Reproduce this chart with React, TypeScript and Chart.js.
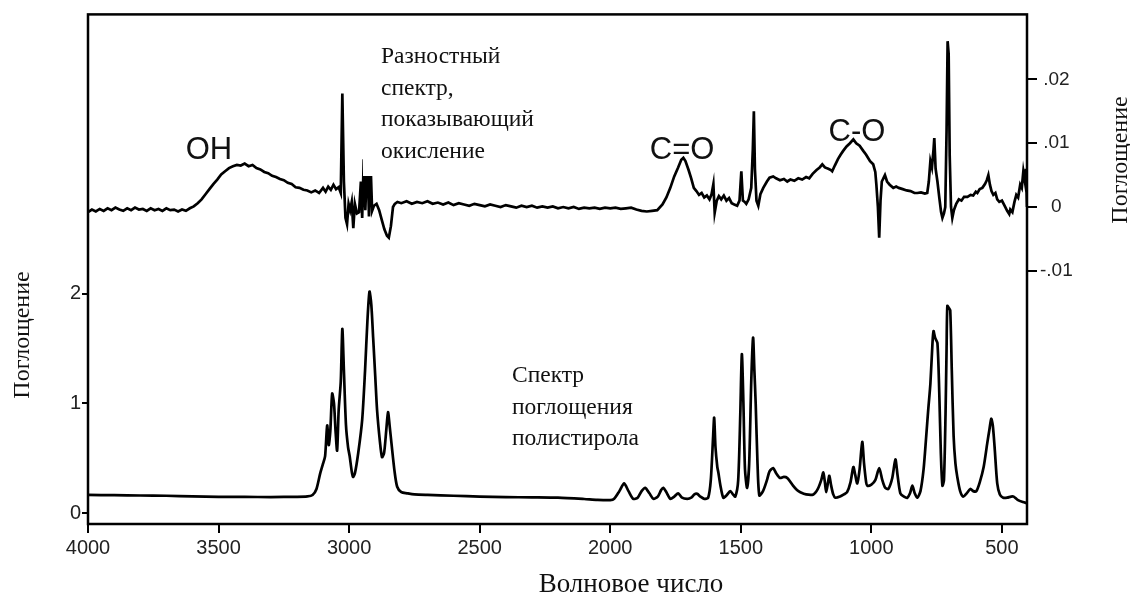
import React, { useEffect, useRef } from "react";
import { Chart, registerables } from "chart.js";

Chart.register(...registerables);

// Polystyrene absorption spectrum (wavenumber, absorbance) — left axis
const psWavenumber = [
  4000, 3900, 3800, 3700, 3600, 3500, 3400, 3300, 3200, 3160, 3140, 3125, 3111, 3100, 3092, 3084, 3078, 3072,
  3065, 3058, 3052, 3046, 3040, 3032, 3026, 3020, 3012, 3004, 2998, 2990, 2985, 2978, 2965, 2950, 2939, 2930,
  2922, 2915, 2908, 2900, 2893, 2882, 2874, 2866, 2858, 2851, 2845, 2838, 2826, 2816, 2800, 2778, 2750, 2700,
  2600, 2500, 2400, 2300, 2200, 2100, 2050, 2000, 1985, 1965, 1947, 1930, 1912, 1895, 1880, 1866, 1850, 1835,
  1818, 1805, 1797, 1785, 1770, 1755, 1740, 1725, 1705, 1690, 1678, 1667, 1655, 1640, 1625, 1615, 1606, 1602,
  1597, 1590, 1586, 1578, 1567, 1555, 1540, 1530, 1521, 1510, 1502, 1496, 1490, 1484, 1476, 1468, 1460, 1453,
  1448, 1443, 1436, 1429, 1415, 1400, 1390, 1376, 1364, 1350, 1335, 1322, 1300, 1285, 1272, 1250, 1222, 1205,
  1192, 1184, 1178, 1173, 1166, 1161, 1154, 1146, 1138, 1120, 1105, 1093, 1080, 1069, 1062, 1054, 1045, 1035,
  1028, 1020, 1016, 1000, 985, 970, 958, 947, 935, 920, 908, 900, 889, 875, 862, 852, 843, 834, 824, 812, 800,
  790, 782, 774, 766, 762, 756, 747, 740, 734, 728, 722, 716, 712, 709, 703, 698, 692, 685, 678, 671, 660, 648,
  635, 621, 610, 598, 585, 570, 556, 548, 541, 535, 528, 518, 508, 495, 480, 465, 455, 440, 420, 404,
];
const psAbsorbance = [
  0.165, 0.163, 0.16, 0.158, 0.152, 0.148, 0.147, 0.146, 0.148, 0.152, 0.165, 0.22, 0.36, 0.45, 0.52, 0.8, 0.62, 0.75,
  1.09, 1.0, 0.75, 0.57, 0.94, 1.2, 1.68, 1.3, 0.8, 0.6, 0.52, 0.38, 0.33, 0.36, 0.55, 0.85, 1.3, 1.75,
  2.02, 1.9, 1.6, 1.25, 0.94, 0.65, 0.51, 0.55, 0.75, 0.92, 0.8, 0.64, 0.38, 0.24, 0.19, 0.18, 0.17, 0.165,
  0.158, 0.15, 0.145, 0.143, 0.14, 0.128, 0.12, 0.118, 0.13, 0.2, 0.27, 0.2, 0.13, 0.14, 0.2, 0.23, 0.18, 0.13,
  0.15, 0.21, 0.23, 0.19, 0.13, 0.15, 0.18, 0.14, 0.13, 0.14, 0.17, 0.175, 0.15, 0.13, 0.14, 0.3, 0.7, 0.87,
  0.6, 0.42, 0.37, 0.25, 0.14, 0.16, 0.2, 0.17, 0.15, 0.3, 0.9, 1.45, 1.0, 0.4, 0.23, 0.45, 1.2, 1.6,
  1.3, 1.0, 0.45, 0.16, 0.2, 0.3, 0.38, 0.41, 0.36, 0.32, 0.33, 0.32, 0.25, 0.21, 0.19, 0.17, 0.17, 0.22,
  0.3, 0.37, 0.28, 0.19, 0.28, 0.34, 0.25, 0.17, 0.14, 0.15, 0.17, 0.19, 0.28, 0.42, 0.35, 0.27, 0.4, 0.65,
  0.45, 0.28, 0.25, 0.26, 0.3, 0.41, 0.3, 0.23, 0.22, 0.32, 0.49, 0.35, 0.18, 0.15, 0.14, 0.18, 0.25, 0.18, 0.14, 0.2, 0.4,
  0.7, 0.95, 1.18, 1.55, 1.66, 1.6, 1.55, 1.1, 0.55, 0.25, 0.3, 0.9, 1.5, 1.89, 1.87, 1.85, 1.3, 0.7, 0.45, 0.33, 0.2, 0.15,
  0.18, 0.22, 0.2, 0.2, 0.28, 0.42, 0.64, 0.76, 0.86, 0.8, 0.6, 0.27, 0.17, 0.14, 0.14, 0.15, 0.15, 0.12, 0.1, 0.09,
];

// Difference spectrum showing oxidation (wavenumber, absorbance) — right axis
const diffWavenumber = [
  4000, 3985, 3970, 3955, 3940, 3925, 3910, 3895, 3880, 3865, 3850, 3835, 3820, 3805, 3790, 3775, 3760, 3745,
  3730, 3715, 3700, 3685, 3670, 3655, 3640, 3625, 3610, 3595, 3580, 3565, 3550, 3535, 3520, 3505, 3490, 3475,
  3460, 3445, 3430, 3415, 3400, 3385, 3370, 3355, 3340, 3325, 3310, 3295, 3280, 3265, 3250, 3235, 3220, 3205,
  3190, 3175, 3160, 3145, 3130, 3115, 3100, 3090, 3080, 3070, 3060, 3050, 3040, 3032, 3026, 3020, 3014, 3008,
  3002, 2996, 2990, 2984, 2978, 2970, 2962, 2955, 2950, 2944, 2938, 2930, 2924, 2918, 2912, 2905, 2895, 2885,
  2875, 2865, 2855, 2848, 2840, 2832, 2825, 2815, 2800, 2780, 2760, 2740, 2720, 2700, 2680, 2660, 2640, 2620,
  2600, 2580, 2560, 2540, 2520, 2500, 2480, 2460, 2440, 2420, 2400, 2380, 2360, 2340, 2320, 2300, 2280, 2260,
  2240, 2220, 2200, 2180, 2160, 2140, 2120, 2100, 2080, 2060, 2040, 2020, 2000, 1980, 1960, 1940, 1920, 1900,
  1880, 1860, 1840, 1820, 1800, 1785, 1770, 1755, 1740, 1728, 1720, 1712, 1700, 1690, 1680, 1670, 1660, 1650,
  1640, 1630, 1620, 1612, 1605, 1600, 1592, 1584, 1575, 1565, 1555, 1545, 1535, 1525, 1514, 1505, 1498, 1492,
  1485, 1479, 1470, 1460, 1454, 1450, 1446, 1440, 1433, 1425, 1414, 1400, 1390, 1376, 1365, 1350, 1335, 1322,
  1310, 1295, 1280, 1265, 1250, 1238, 1225, 1210, 1198, 1188, 1178, 1165, 1155, 1150, 1140, 1128, 1118, 1108,
  1095, 1082, 1069, 1058, 1045, 1031, 1020, 1005, 993, 985, 981, 975, 970, 965, 960, 955, 948, 940, 930, 916,
  905, 895, 880, 865, 850, 835, 824, 810, 795, 786, 780, 774, 768, 762, 759, 754, 747, 740, 733, 728, 722, 717,
  712, 708, 704, 700, 695, 690, 684, 675, 665, 655, 645, 632, 620, 610, 600, 594, 585, 575, 565, 558, 552, 546,
  540, 533, 525, 518, 510, 500, 490, 480, 472, 468, 460, 452, 445, 438, 430, 424, 418, 412, 408, 404,
];
const diffAbsorbance = [
  -0.0008, -0.0004, -0.0007, -0.0003, -0.0006, -0.0002, -0.0005, -0.0001, -0.0004, -0.0006, -0.0002, -0.0005, -0.0001, -0.0004, -0.0003, -0.0006, -0.0002, -0.0005,
  -0.0003, -0.0006, -0.0002, -0.0005, -0.0004, -0.0007, -0.0004, -0.0006, -0.0002, 0.0001, 0.0006, 0.0012, 0.002, 0.0028, 0.0036, 0.0043, 0.0051, 0.0056,
  0.0061, 0.0064, 0.0066, 0.0065, 0.0068, 0.0064, 0.0066, 0.0061, 0.0059, 0.0055, 0.0053, 0.0049, 0.0047, 0.0044, 0.0042, 0.0038, 0.0036, 0.0031,
  0.003, 0.0027, 0.0026, 0.0023, 0.0026, 0.0022, 0.003, 0.0024, 0.0032, 0.0027, 0.0035, 0.0028, 0.0031, 0.0022, 0.0178, 0.004, -0.0017, -0.0027,
  0.0005, -0.0005, 0.0008, -0.0033, 0.0005, -0.001, -0.0008, 0.004, -0.0017, 0.0075, -0.0005, 0.008, -0.0015, 0.007, -0.0006, 0.0002, 0.0005, -0.0005,
  -0.002, -0.0035, -0.0045, -0.0048, -0.003, 0.0, 0.0005, 0.0008, 0.0006, 0.0009, 0.0005, 0.0008, 0.0006, 0.0009, 0.0005, 0.0007, 0.0004, 0.0007,
  0.0003, 0.0006, 0.0004, 0.0002, 0.0005, 0.0003, 0.0001, 0.0004, 0.0002, 0.0, 0.0003, 0.0001, -0.0001, 0.0002, 0.0, 0.0002, -0.0001, 0.0001,
  -0.0001, 0.0001, -0.0002, 0.0, -0.0002, 0.0, -0.0003, -0.0001, -0.0002, -0.0001, -0.0003, -0.0001, -0.0002, -0.0001, -0.0003, -0.0002, -0.0001, -0.0004,
  -0.0006, -0.0007, -0.0006, -0.0005, 0.0004, 0.0015, 0.003, 0.0048, 0.0062, 0.0074, 0.0077, 0.0072, 0.0058, 0.0045, 0.003, 0.0025, 0.0019, 0.0022,
  0.0015, 0.0018, 0.0012, 0.002, 0.0036, -0.0009, 0.001, 0.0017, 0.0012, 0.0018, 0.001, 0.0014, 0.0006, 0.0004, 0.0002, 0.001, 0.0056, 0.001,
  0.0008, 0.0005, 0.0012, 0.003, 0.009, 0.015, 0.006, 0.001, 0.0002, 0.002, 0.003, 0.004, 0.0046, 0.0048, 0.0045, 0.0042, 0.0044, 0.004,
  0.0043, 0.0041, 0.0045, 0.0043, 0.0047, 0.0045, 0.0052, 0.0058, 0.0062, 0.0067, 0.0062, 0.006, 0.0058, 0.0056, 0.0065, 0.0075, 0.0082, 0.0088,
  0.0095, 0.01, 0.0106, 0.01, 0.0096, 0.0088, 0.0082, 0.0072, 0.0067, 0.0055, 0.0036, 0.0, -0.0048, 0.001, 0.004, 0.0044, 0.005, 0.004, 0.0035, 0.003,
  0.0032, 0.003, 0.0028, 0.0026, 0.0025, 0.0022, 0.0022, 0.0023, 0.0021, 0.0022, 0.004, 0.0072, 0.0062, 0.009, 0.0108, 0.006, 0.004, 0.0015, -0.0008, -0.0017, -0.001, 0.0,
  0.012, 0.026, 0.024, 0.008, 0.0, -0.0017, -0.0005, 0.0005, 0.0012, 0.001, 0.0016, 0.0016, 0.0019, 0.0018, 0.0024, 0.0022, 0.0028, 0.003, 0.0036, 0.0042, 0.005, 0.0035,
  0.0025, 0.0019, 0.0022, 0.0012, 0.0008, 0.001, 0.0002, -0.0006, -0.0011, -0.0004, -0.0008, 0.0008, 0.0019, 0.0015, 0.0035, 0.003, 0.0056, 0.004, 0.006, 0.0,
];

const xTickValues = [4000, 3500, 3000, 2500, 2000, 1500, 1000, 500];
const leftTickValues = [0, 1, 2];
const rightTickValues = [-0.01, 0, 0.01, 0.02];

// Band labels placed at (wavenumber, difference-absorbance) of their baseline centre
const bandLabels = ["OH", "C=O", "C-O"];
const bandWavenumbers = [3537, 1725, 1055];
const bandLevels = [0.0075, 0.0075, 0.0104];

const diffCaption = ["Разностный", "спектр,", "показывающий", "окисление"];
const psCaption = ["Спектр", "поглощения", "полистирола"];

const SANS = "'Liberation Sans', Arial, Helvetica, sans-serif";
const SERIF = "'Liberation Serif', 'Times New Roman', Times, serif";

const decorations = {
  id: "decorations",
  afterDatasetsDraw(chart: any) {
    const { ctx, chartArea, scales } = chart;
    const { left, top, right, bottom } = chartArea;
    ctx.save();

    // caption boxes
    ctx.fillStyle = "#ffffff";
    ctx.fillRect(363, 22, 205, 154);
    ctx.fillRect(492, 350, 191, 120);

    ctx.fillStyle = "#111";
    ctx.font = `23.5px ${SERIF}`;
    ctx.textAlign = "left";
    ctx.textBaseline = "alphabetic";
    diffCaption.forEach((t, i) => ctx.fillText(t, 381, 63 + i * 31.5));
    psCaption.forEach((t, i) => ctx.fillText(t, 512, 382 + i * 31.5));

    // band assignments
    ctx.font = `31px ${SANS}`;
    ctx.textAlign = "center";
    bandLabels.forEach((t, i) => {
      const x = scales.x.getPixelForValue(bandWavenumbers[i]);
      const y = scales.yR.getPixelForValue(bandLevels[i]);
      ctx.fillText(t, x, y);
    });

    // frame
    ctx.strokeStyle = "#000";
    ctx.lineWidth = 2.5;
    ctx.strokeRect(left, top, right - left, bottom - top);

    // axis titles
    ctx.fillStyle = "#111";
    ctx.font = `24px ${SERIF}`;
    ctx.textAlign = "center";
    ctx.save();
    ctx.translate(29, 335);
    ctx.rotate(-Math.PI / 2);
    ctx.fillText("Поглощение", 0, 0);
    ctx.restore();
    ctx.save();
    ctx.translate(1127, 160);
    ctx.rotate(-Math.PI / 2);
    ctx.fillText("Поглощение", 0, 0);
    ctx.restore();
    ctx.font = `27px ${SERIF}`;
    ctx.fillText("Волновое число", 631, 592);
    ctx.restore();
  },
};

const rightLabel = (v: number) => {
  if (Math.abs(v) < 1e-9) return "0";
  const s = Math.abs(v).toFixed(2).replace(/^0/, "");
  return v < 0 ? "-" + s : s;
};

export default function App() {
  const canvasRef = useRef<HTMLCanvasElement | null>(null);

  useEffect(() => {
    document.body.style.margin = "0";
    const canvas = canvasRef.current;
    if (!canvas) return;
    const chart = new Chart(canvas, {
      type: "line",
      data: {
        datasets: [
          {
            label: "Разностный спектр",
            data: diffWavenumber.map((x, i) => ({ x, y: diffAbsorbance[i] })),
            yAxisID: "yR",
            borderColor: "#000",
            borderWidth: 2.7,
            pointRadius: 0,
            tension: 0,
          },
          {
            label: "Спектр поглощения полистирола",
            data: psWavenumber.map((x, i) => ({ x, y: psAbsorbance[i] })),
            yAxisID: "yL",
            borderColor: "#000",
            borderWidth: 2.7,
            pointRadius: 0,
            tension: 0.25,
          },
        ],
      },
      options: {
        responsive: false,
        animation: false,
        layout: { padding: { top: 13, left: 0, right: 0, bottom: 0 } },
        plugins: { legend: { display: false }, tooltip: { enabled: false } },
        scales: {
          x: {
            type: "linear",
            position: "bottom",
            reverse: true,
            min: 404,
            max: 4000,
            afterBuildTicks: (s: any) => {
              s.ticks = xTickValues.map((value) => ({ value }));
            },
            afterFit: (s: any) => {
              s.height = 73;
            },
            border: { display: false },
            grid: { drawOnChartArea: false, drawTicks: true, tickLength: 9, color: "#000", lineWidth: 2 },
            ticks: {
              autoSkip: false,
              maxRotation: 0,
              padding: 3,
              color: "#222",
              font: { family: SANS, size: 20 },
              callback: (v: any) => String(v),
            },
          },
          yL: {
            type: "linear",
            position: "left",
            min: -0.1,
            max: 4.55,
            afterBuildTicks: (s: any) => {
              s.ticks = leftTickValues.map((value) => ({ value }));
            },
            afterFit: (s: any) => {
              s.width = 88;
            },
            border: { display: false },
            grid: { drawOnChartArea: false, drawTicks: true, tickLength: 6, color: "#000", lineWidth: 2 },
            ticks: {
              padding: 1,
              color: "#222",
              font: { family: SANS, size: 20 },
              callback: (v: any) => String(v),
            },
          },
          yR: {
            type: "linear",
            position: "right",
            min: -0.0497,
            max: 0.0302,
            afterBuildTicks: (s: any) => {
              s.ticks = rightTickValues.map((value) => ({ value }));
            },
            afterFit: (s: any) => {
              s.width = 103;
            },
            border: { display: false },
            grid: { drawOnChartArea: false, drawTicks: true, tickLength: 10, color: "#000", lineWidth: 2 },
            ticks: {
              padding: 3,
              crossAlign: "center",
              color: "#222",
              font: { family: SANS, size: 19 },
              callback: (v: any) => rightLabel(Number(v)),
            },
          },
        },
      },
      plugins: [decorations],
    } as any);
    return () => chart.destroy();
  }, []);

  return <canvas ref={canvasRef} width={1130} height={597} style={{ display: "block" }} />;
}
